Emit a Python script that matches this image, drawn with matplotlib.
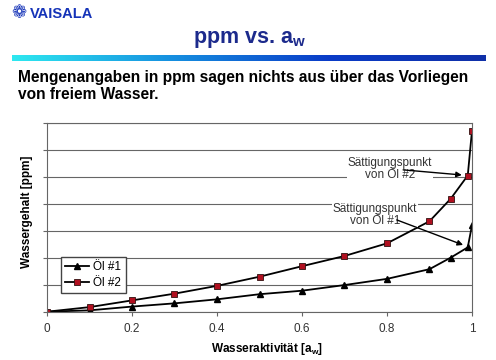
import numpy as np
import matplotlib.pyplot as plt
from matplotlib.colors import LinearSegmentedColormap

plt.rcParams['font.family'] = ['Liberation Sans', 'DejaVu Sans']

# data (y in grid units, no labels on y axis)
aw = [0, 0.1, 0.2, 0.3, 0.4, 0.5, 0.6, 0.7, 0.8, 0.9, 0.95, 0.99, 1.0]
oel1 = [0, 0.05, 0.19, 0.31, 0.46, 0.65, 0.78, 0.99, 1.22, 1.58, 2.01, 2.39, 3.21]
oel2 = [0, 0.17, 0.42, 0.67, 0.96, 1.30, 1.69, 2.07, 2.54, 3.36, 4.20, 5.06, 6.73]
xticks = [0, 0.2, 0.4, 0.6, 0.8, 1]
xticklabels = ['0', '0.2', '0.4', '0.6', '0.8', '1']

fig = plt.figure(figsize=(4.96, 3.6), dpi=100)

# header: logo, title, gradient bar, statement
fig.text(11/496, 1 - 13/360, '\u2741', color='#1533b8', fontsize=13,
         va='center', ha='left', fontweight='bold', family='DejaVu Sans')
fig.text(30/496, 1 - 13.5/360, 'VAISALA', color='#1533b8', fontsize=10.5,
         va='center', ha='left', fontweight='bold')
fig.text(250/496, 1 - 39/360, r'ppm vs. a$_\mathregular{w}$', color='#1c2a8c',
         fontsize=15.5, fontweight='bold', ha='center', va='center')

bar = fig.add_axes([12/496, 1 - 61/360, 474/496, 6/360])
cmap = LinearSegmentedColormap.from_list('vb', ['#2ee8f0', '#1690e0', '#0a3cc8', '#1030a8'])
bar.imshow(np.linspace(0, 1, 256).reshape(1, -1), aspect='auto', cmap=cmap)
bar.axis('off')

fig.text(18/496, 1 - 86/360, 'Mengenangaben in ppm sagen nichts aus über das Vorliegen\nvon freiem Wasser.',
         fontsize=11.2, fontweight='bold', ha='left', va='center', linespacing=1.1)

ax = fig.add_axes([47/496, 1 - 311.7/360, 425/496, 188.4/360])
ax.plot(aw, oel1, color='black', lw=1.3, marker='^', ms=5,
        mfc='black', mec='black', label='Öl #1')
ax.plot(aw, oel2, color='black', lw=1.3, marker='s', ms=4.5,
        mfc='#b01020', mec='#301010', mew=0.6, label='Öl #2')

ax.set_xlim(0, 1)
ax.set_ylim(0, 7)
ax.set_xticks(xticks)
ax.set_xticklabels(xticklabels)
ax.set_yticks(range(0, 8))
ax.set_yticklabels([])
ax.yaxis.grid(True, color='#666666', lw=0.8)
ax.set_axisbelow(True)
for s in ax.spines.values():
    s.set_color('#666666')
    s.set_linewidth(0.8)
ax.tick_params(axis='both', colors='#666666', length=3, width=0.8,
               labelsize=8.5, labelcolor='#333333', pad=5)

ax.set_xlabel(r'Wasseraktivität [a$_\mathregular{w}$]', fontsize=8.5, fontweight='bold')
ax.set_ylabel('Wassergehalt [ppm]', fontsize=8.5, fontweight='bold')
ax.xaxis.set_label_coords(0.517, -0.155)
ax.yaxis.set_label_coords(-0.033, 0.53)

# annotation texts and arrows
ax.text(0.807, 5.3, 'Sättigungspunkt\nvon Öl #2', ha='center', va='center',
        fontsize=8.5, color='#333333', linespacing=1.0,
        bbox=dict(fc='white', ec='none', pad=0.3))
ax.annotate('', xy=(0.976, 5.08), xytext=(0.838, 5.27),
            arrowprops=dict(arrowstyle='-|>', color='black', lw=1.0,
                            shrinkA=0, shrinkB=0, mutation_scale=8))
ax.text(0.772, 3.58, 'Sättigungspunkt\nvon Öl #1', ha='center', va='center',
        fontsize=8.5, color='#333333', linespacing=1.0,
        bbox=dict(fc='white', ec='none', pad=0.3))
ax.annotate('', xy=(0.979, 2.48), xytext=(0.823, 3.41),
            arrowprops=dict(arrowstyle='-|>', color='black', lw=1.0,
                            shrinkA=0, shrinkB=0, mutation_scale=8))

ax.legend(loc='lower left', bbox_to_anchor=(0.033, 0.099), borderaxespad=0,
          fontsize=8.5, frameon=True, fancybox=False, edgecolor='#444444',
          framealpha=1, handlelength=2, borderpad=0.35, labelspacing=0.35,
          handletextpad=0.4)

fig.savefig('out.png', dpi=100)
